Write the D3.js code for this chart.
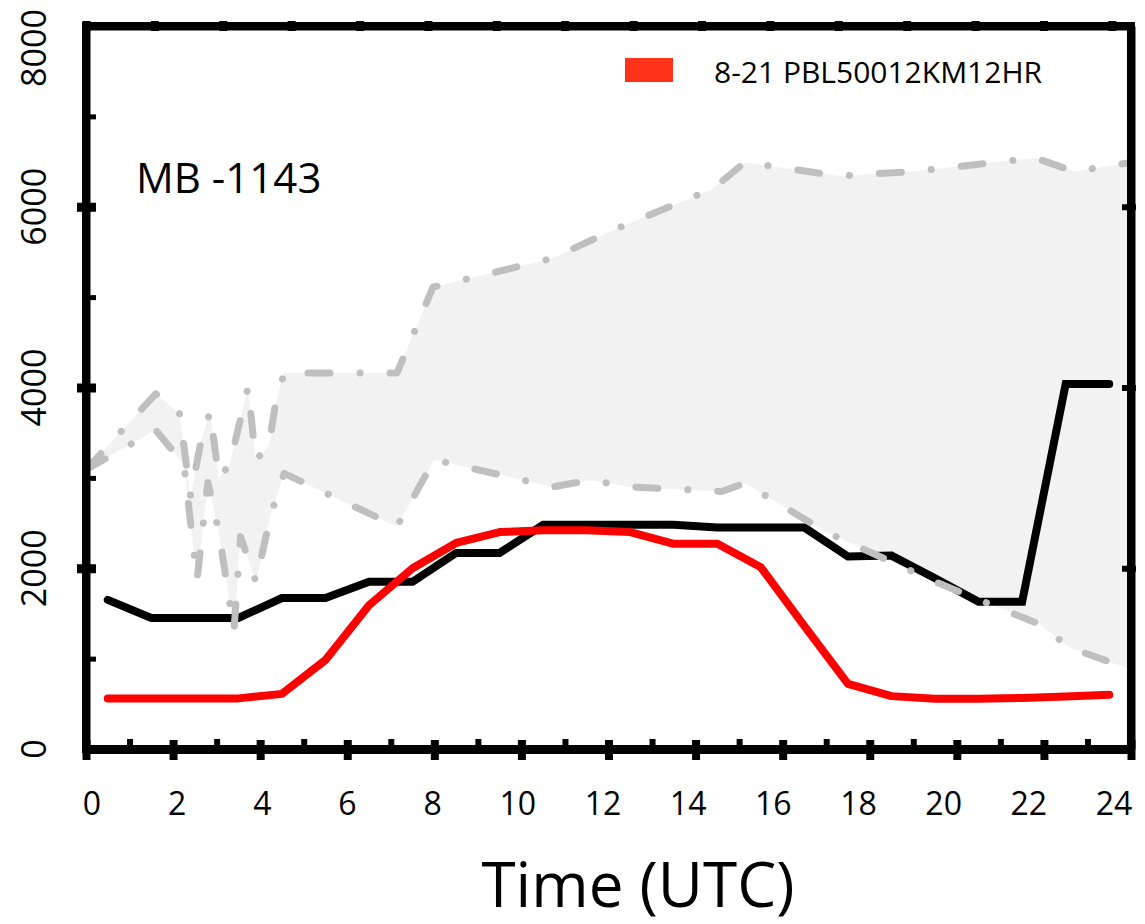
<!DOCTYPE html>
<html>
<head>
<meta charset="utf-8">
<script src="https://cdn.jsdelivr.net/npm/d3@7"></script>
<style>
  body { margin: 0; background: #fff; }
  text { font-family: "Open Sans", "DejaVu Sans", sans-serif; fill: #000; }
</style>
</head>
<body>
<svg id="chart" width="1145" height="924"></svg>
<script>
// axis ticks
var majorHours = [0, 2, 4, 6, 8, 10, 12, 14, 16, 18, 20, 22, 24];
var minorHours = [1, 3, 5, 7, 9, 11, 13, 15, 17, 19, 21, 23];
var yMajor = [0, 2000, 4000, 6000, 8000];
var yMinor = [1000, 3000, 5000, 7000];

// black line (observed PBL height, hourly)
var obsHours = [0.5, 1.5, 2.5, 3.5, 4.5, 5.5, 6.5, 7.5, 8.5, 9.5, 10.5, 11.5,
  12.5, 13.5, 14.5, 15.5, 16.5, 17.5, 18.5, 19.5, 20.5, 21.5, 22.5, 23.5];
var obsPBL = [1650, 1450, 1450, 1450, 1670, 1670, 1850, 1850, 2170, 2170, 2480, 2480,
  2480, 2480, 2450, 2450, 2450, 2130, 2140, 1890, 1630, 1630, 4040, 4040];

// red line: 8-21 PBL50012KM12HR
var modelPBL = [560, 560, 560, 560, 610, 985, 1590, 2000, 2280, 2400, 2420, 2420,
  2400, 2270, 2270, 2010, 1360, 720, 585, 555, 555, 565, 580, 600];

// grey envelope, upper and lower edges
var upperHours = [0, 1.6, 2.15, 2.4, 2.65, 2.85, 3.05, 3.3, 3.72, 3.9, 4.2, 4.35, 4.55,
  7.14, 7.97, 10.72, 12.0, 14.4, 15.13, 17.3, 19.0, 21.8, 22.7, 24];
var upperVals = [3090, 3930, 3710, 2800, 3430, 3730, 3000, 3150, 4000, 3200, 3350, 3820, 4160,
  4160, 5110, 5430, 5720, 6200, 6490, 6340, 6390, 6540, 6390, 6490];
var lowerHours = [0, 1.6, 2.25, 2.55, 2.8, 3.05, 3.4, 3.55, 3.9, 4.25, 4.55,
  7.14, 8.0, 10.72, 11.57, 12.5, 14.6, 15.13, 17.0, 19.5, 21.9, 22.6, 24];
var lowerVals = [3090, 3530, 3150, 1870, 2950, 2400, 1320, 2350, 1850, 2600, 3050,
  2460, 3200, 2900, 2975, 2900, 2850, 2940, 2400, 1850, 1380, 1120, 880];

var legendLabel = "8-21 PBL50012KM12HR";
var stationLabel = "MB -1143";
var xTitle = "Time (UTC)";

var svg = d3.select("#chart");

var x = d3.scaleLinear().domain([0, 24]).range([86, 1131]);
var y = d3.scaleLinear().domain([0, 8000]).range([749, 26]);
// tick labels sit on a slightly narrower spread than the ticks
var xLab = d3.scaleLinear().domain([0, 24]).range([92, 1114]);
// top frame carries its own evenly spaced ticks
var topTicks = d3.range(16);
var xTop = d3.scaleLinear().domain([0, 15.28]).range([86, 1131]);

var obs = obsHours.map(function(h, i) { return [h, obsPBL[i]]; });
var model = obsHours.map(function(h, i) { return [h, modelPBL[i]]; });
var upper = upperHours.map(function(h, i) { return [h, upperVals[i]]; });
var lower = lowerHours.map(function(h, i) { return [h, lowerVals[i]]; });

var line = d3.line().x(function(d) { return x(d[0]); }).y(function(d) { return y(d[1]); });

// shaded envelope
svg.append("path")
  .attr("d", line(upper.concat(lower.slice().reverse())) + "Z")
  .attr("fill", "#f2f2f2")
  .attr("stroke", "none");

// black line
svg.append("path")
  .attr("d", line(obs))
  .attr("fill", "none")
  .attr("stroke", "#000")
  .attr("stroke-width", 8)
  .attr("stroke-linecap", "round");

// grey dash-dot edges
[upper, lower].forEach(function(s) {
  svg.append("path")
    .attr("d", line(s))
    .attr("fill", "none")
    .attr("stroke", "#bfbfbf")
    .attr("stroke-width", 7)
    .attr("stroke-linecap", "round")
    .attr("stroke-linejoin", "round")
    .attr("stroke-dasharray", "22,30,0.1,30");
});

// red line
svg.append("path")
  .attr("d", line(model))
  .attr("fill", "none")
  .attr("stroke", "#ff0000")
  .attr("stroke-width", 8)
  .attr("stroke-linecap", "round")
  .attr("stroke-linejoin", "round");

function styleAxis(g, domainW, tickW) {
  g.select(".domain").attr("stroke", "#000").attr("stroke-width", domainW);
  g.selectAll(".tick line").attr("stroke", "#000").attr("stroke-width", tickW);
  g.selectAll(".tick text").remove();
}

// bottom frame
var gb = svg.append("g").attr("transform", "translate(0," + y(0) + ")")
  .call(d3.axisBottom(x).tickValues(majorHours).tickSize(11).tickSizeOuter(0).tickFormat(""));
styleAxis(gb, 9, 8);
var gb2 = svg.append("g").attr("transform", "translate(0," + y(0) + ")")
  .call(d3.axisBottom(x).tickValues(majorHours).tickSize(-9).tickSizeOuter(0).tickFormat(""));
styleAxis(gb2, 0, 8);
var gb3 = svg.append("g").attr("transform", "translate(0," + y(0) + ")")
  .call(d3.axisBottom(x).tickValues(minorHours).tickSize(-10).tickSizeOuter(0).tickFormat(""));
styleAxis(gb3, 0, 6);

// left frame
var gl = svg.append("g").attr("transform", "translate(" + x(0) + ",0)")
  .call(d3.axisLeft(y).tickValues(yMajor.slice(1, 4)).tickSize(9).tickSizeOuter(0).tickFormat(""));
styleAxis(gl, 8, 9);
var gl2 = svg.append("g").attr("transform", "translate(" + x(0) + ",0)")
  .call(d3.axisLeft(y).tickValues(yMajor.slice(1, 4)).tickSize(-10).tickSizeOuter(0).tickFormat(""));
styleAxis(gl2, 0, 9);
var gl3 = svg.append("g").attr("transform", "translate(" + x(0) + ",0)")
  .call(d3.axisLeft(y).tickValues(yMinor).tickSize(-10).tickSizeOuter(0).tickFormat(""));
styleAxis(gl3, 0, 5);

// right frame
var gr = svg.append("g").attr("transform", "translate(" + x(24) + ",0)")
  .call(d3.axisRight(y).tickValues(yMajor.slice(1, 4)).tickSize(5).tickSizeOuter(0).tickFormat(""));
styleAxis(gr, 8, 6);
var gr2 = svg.append("g").attr("transform", "translate(" + x(24) + ",0)")
  .call(d3.axisRight(y).tickValues(yMajor.slice(1, 4)).tickSize(-9).tickSizeOuter(0).tickFormat(""));
styleAxis(gr2, 0, 6);

// top frame
var gt = svg.append("g").attr("transform", "translate(0," + y(8000) + ")")
  .call(d3.axisTop(xTop).tickValues(topTicks).tickSize(5).tickSizeOuter(0).tickFormat(""));
styleAxis(gt, 8, 8);
var gt2 = svg.append("g").attr("transform", "translate(0," + y(8000) + ")")
  .call(d3.axisTop(xTop).tickValues(topTicks).tickSize(-5).tickSizeOuter(0).tickFormat(""));
styleAxis(gt2, 0, 8);

// corners
svg.append("path")
  .attr("d", "M" + x(0) + "," + y(0) + "V" + y(8000) + "H" + x(24) + "V" + y(0) + "Z")
  .attr("fill", "none").attr("stroke", "#000").attr("stroke-width", 8)
  .attr("stroke-linejoin", "miter");

// x tick labels
svg.selectAll(".xlab").data(majorHours).enter().append("text")
  .attr("class", "xlab")
  .attr("x", function(d) { return xLab(d); })
  .attr("y", 815)
  .attr("text-anchor", "middle")
  .attr("font-size", "32px")
  .text(function(d) { return d; });

// y tick labels, rotated
svg.selectAll(".ylab").data(yMajor).enter().append("text")
  .attr("class", "ylab")
  .attr("transform", function(d) { return "translate(33," + Math.max(y(d), 48) + ") rotate(-90)"; })
  .attr("text-anchor", "middle")
  .attr("dominant-baseline", "central")
  .attr("font-size", "34px")
  .text(function(d) { return d; });

// x title
svg.append("text")
  .attr("x", 638).attr("y", 907)
  .attr("text-anchor", "middle")
  .attr("font-size", "62px")
  .text(xTitle);

// station label
svg.append("text")
  .attr("x", 136).attr("y", 193)
  .attr("font-size", "42px")
  .text(stationLabel);

// legend
svg.append("rect")
  .attr("x", 625).attr("y", 58).attr("width", 48).attr("height", 24)
  .attr("fill", "#ff3319");
svg.append("text")
  .attr("x", 714).attr("y", 83)
  .attr("font-size", "30px")
  .text(legendLabel);
</script>
</body>
</html>
